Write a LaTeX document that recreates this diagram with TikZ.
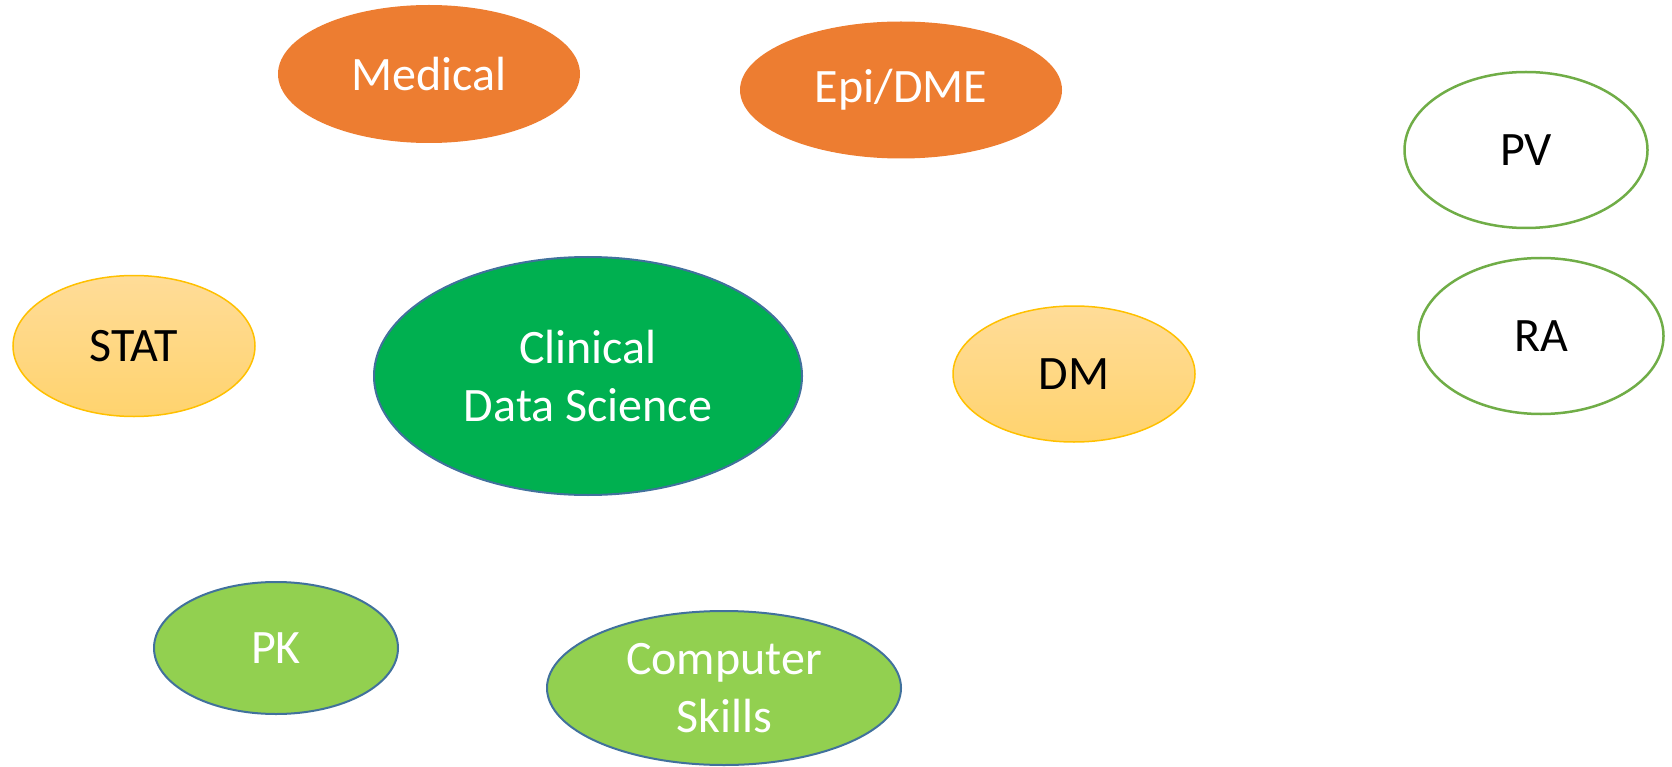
\documentclass[tikz,border=0pt]{standalone}
\usepackage{fontspec}
\setmainfont{Carlito}
\usetikzlibrary{shapes.geometric}
\definecolor{orng}{HTML}{ED7D31}
\definecolor{dgreen}{HTML}{00B050}
\definecolor{lgreen}{HTML}{92D050}
\definecolor{bblue}{HTML}{41719C}
\definecolor{gold}{HTML}{FFC000}
\definecolor{goldtop}{HTML}{FFDC98}
\definecolor{goldbot}{HTML}{FFD36E}
\definecolor{pgreen}{HTML}{70AD47}
\tikzset{
  ell/.style={ellipse, inner sep=0pt, align=center, font=\fontsize{48}{58}\selectfont},
  orangeell/.style={ell, fill=orng, text=white},
  greenell/.style={ell, fill=dgreen, draw=bblue, line width=2pt, text=white},
  lgreenell/.style={ell, fill=lgreen, draw=bblue, line width=2pt, text=white},
  goldell/.style={ell, top color=goldtop, bottom color=goldbot, draw=gold, line width=1.5pt, text=black},
  whiteell/.style={ell, fill=white, draw=pgreen, line width=2.5pt, text=black},
}
\begin{document}
\begin{tikzpicture}[x=1pt,y=-1pt]
\useasboundingbox (0,0) rectangle (1672,767);
\node[orangeell, minimum width=302pt, minimum height=138pt] (medical) at (429,74) {Medical};
\node[orangeell, minimum width=322pt, minimum height=137pt] (epi) at (901,90) {Epi/DME};
\node[whiteell, minimum width=243pt, minimum height=156pt] (pv) at (1526,150) {PV};
\node[whiteell, minimum width=245pt, minimum height=156pt] (ra) at (1541,336) {RA};
\node[goldell, minimum width=242pt, minimum height=141pt] (stat) at (134,346) {STAT};
\node[greenell, minimum width=428pt, minimum height=238pt] (cds) at (588,376) {Clinical\\Data Science};
\node[goldell, minimum width=242pt, minimum height=136pt] (dm) at (1074,374) {DM};
\node[lgreenell, minimum width=244pt, minimum height=132pt] (pk) at (276,648) {PK};
\node[lgreenell, minimum width=354pt, minimum height=154pt] (cs) at (724,688) {Computer\\Skills};
\end{tikzpicture}
\end{document}
